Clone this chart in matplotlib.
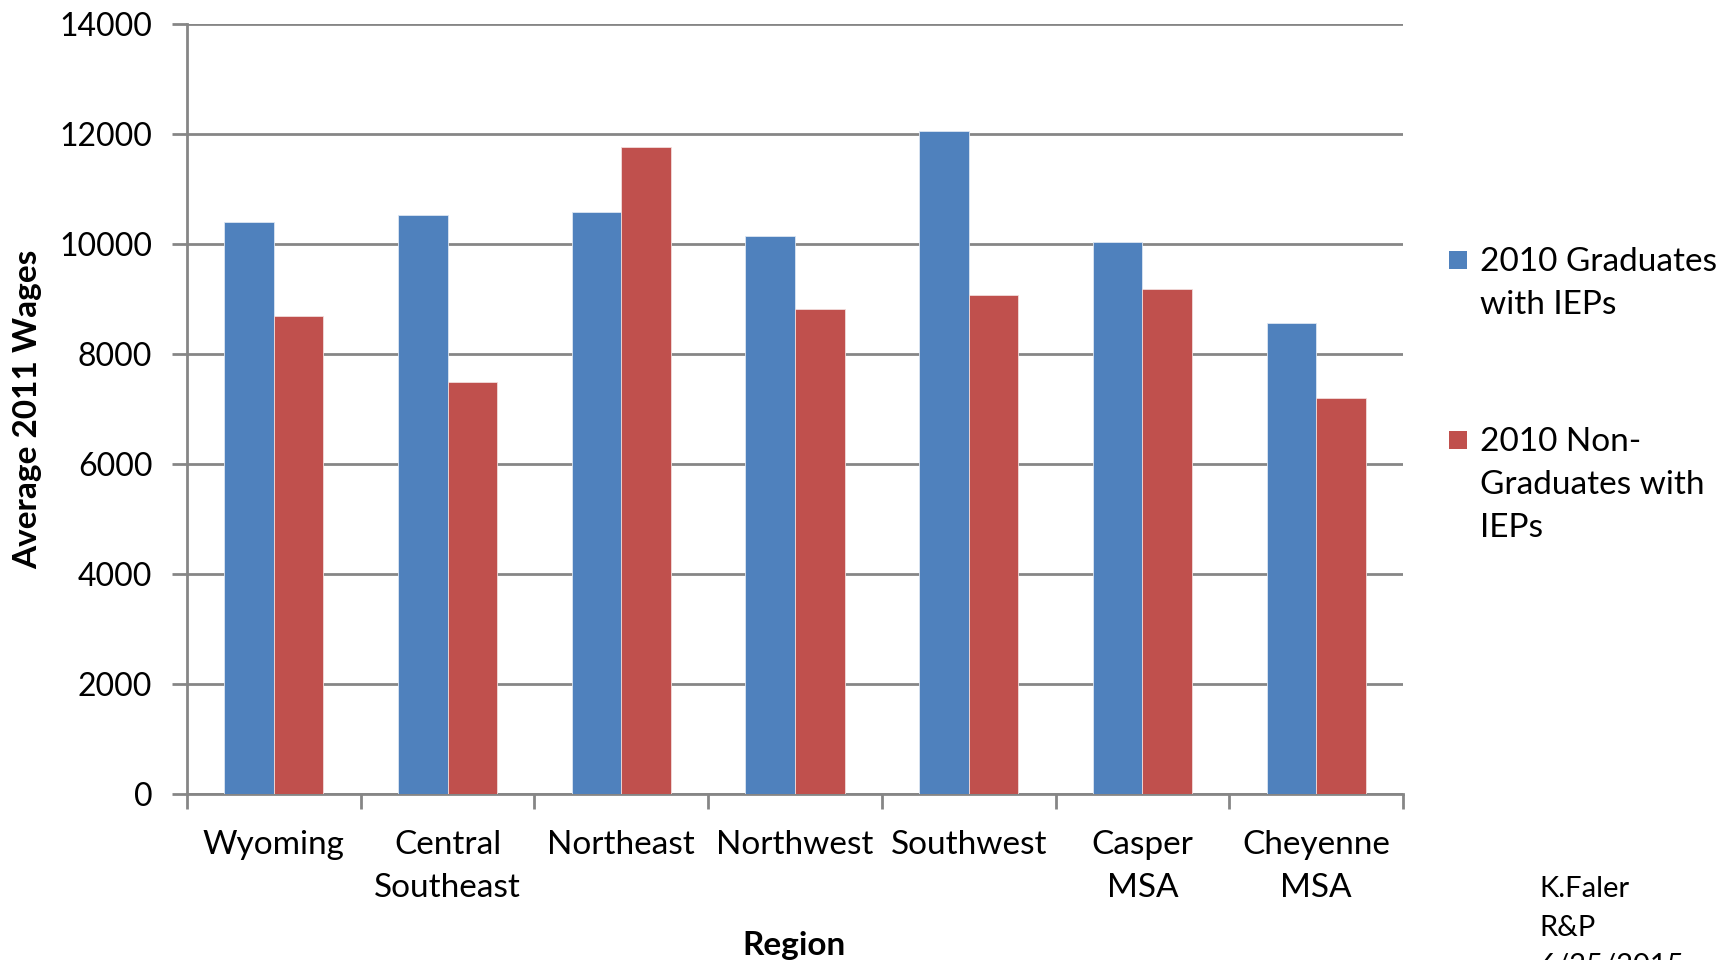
import matplotlib
matplotlib.use("Agg")
import matplotlib.pyplot as plt
import numpy as np
from matplotlib.patches import Rectangle

# average 2011 wages by region
regions = ["Wyoming", "Central\nSoutheast", "Northeast", "Northwest",
           "Southwest", "Casper\nMSA", "Cheyenne\nMSA"]
graduates = [10400, 10520, 10580, 10150, 12050, 10040, 8560]
non_graduates = [8690, 7490, 11770, 8820, 9070, 9180, 7200]
series_names = ["2010 Graduates\nwith IEPs", "2010 Non-\nGraduates with\nIEPs"]
y_ticks = [0, 2000, 4000, 6000, 8000, 10000, 12000, 14000]

blue = "#4F81BD"
red = "#C0504D"
grey = "#868686"

plt.rcParams["font.family"] = ["Lato", "DejaVu Sans"]

W, H = 1735, 960
fig = plt.figure(figsize=(W / 100, H / 100), dpi=100)
ax = fig.add_axes([187 / W, 1 - 794 / H, (1403 - 187) / W, (794 - 24) / H])

x = np.arange(len(regions)) + 0.5
w = 1 / 3.5
ax.bar(x - w / 2, graduates, w, color=blue, edgecolor="#DCE6F2", linewidth=0.6, zorder=3)
ax.bar(x + w / 2, non_graduates, w, color=red, edgecolor="#F2DCDB", linewidth=0.6, zorder=3)

ax.set_xlim(0, len(regions))
ax.set_ylim(0, 14000)
ax.set_yticks(y_ticks)
ax.set_yticklabels([str(v) for v in y_ticks], fontsize=23)
ax.yaxis.grid(True, color=grey, linewidth=2)
ax.set_axisbelow(True)

# region names at the centres, tick marks at the boundaries
ax.set_xticks(x)
ax.set_xticklabels(regions, fontsize=24, linespacing=1.55)
ax.set_xticks(np.arange(len(regions) + 1), minor=True)
ax.tick_params(axis="x", which="major", length=0, pad=26)
ax.tick_params(axis="x", which="minor", length=11, width=2, color=grey, direction="out")
ax.tick_params(axis="y", length=11, width=2, color=grey, direction="out", pad=14)

for side in ["top", "right"]:
    ax.spines[side].set_visible(False)
for side in ["left", "bottom"]:
    ax.spines[side].set_color(grey)
    ax.spines[side].set_linewidth(2)

fig.text(28 / W, 1 - 409 / H, "Average 2011 Wages", rotation=90, fontsize=24,
         fontweight="bold", ha="center", va="center")
fig.text(794 / W, 1 - 945 / H, "Region", fontsize=24, fontweight="bold",
         ha="center", va="center")

# legend on the right, square beside the first line of each label
for name, col, y_top in zip(series_names, [blue, red], [260, 440]):
    fig.patches.append(Rectangle((1449 / W, 1 - (y_top + 9) / H), 18 / W, 18 / H,
                                 transform=fig.transFigure, facecolor=col,
                                 edgecolor="none"))
    fig.text(1480 / W, 1 - (y_top - 13) / H, name, fontsize=24, ha="left",
             va="top", linespacing=1.55)

# author note in the bottom-right corner, running off the lower edge
fig.text(1539 / W, 1 - 876 / H, "K.Faler\nR&P\n6/25/2015", fontsize=21,
         ha="left", va="top", linespacing=1.6)

fig.savefig("out.png", dpi=100)
